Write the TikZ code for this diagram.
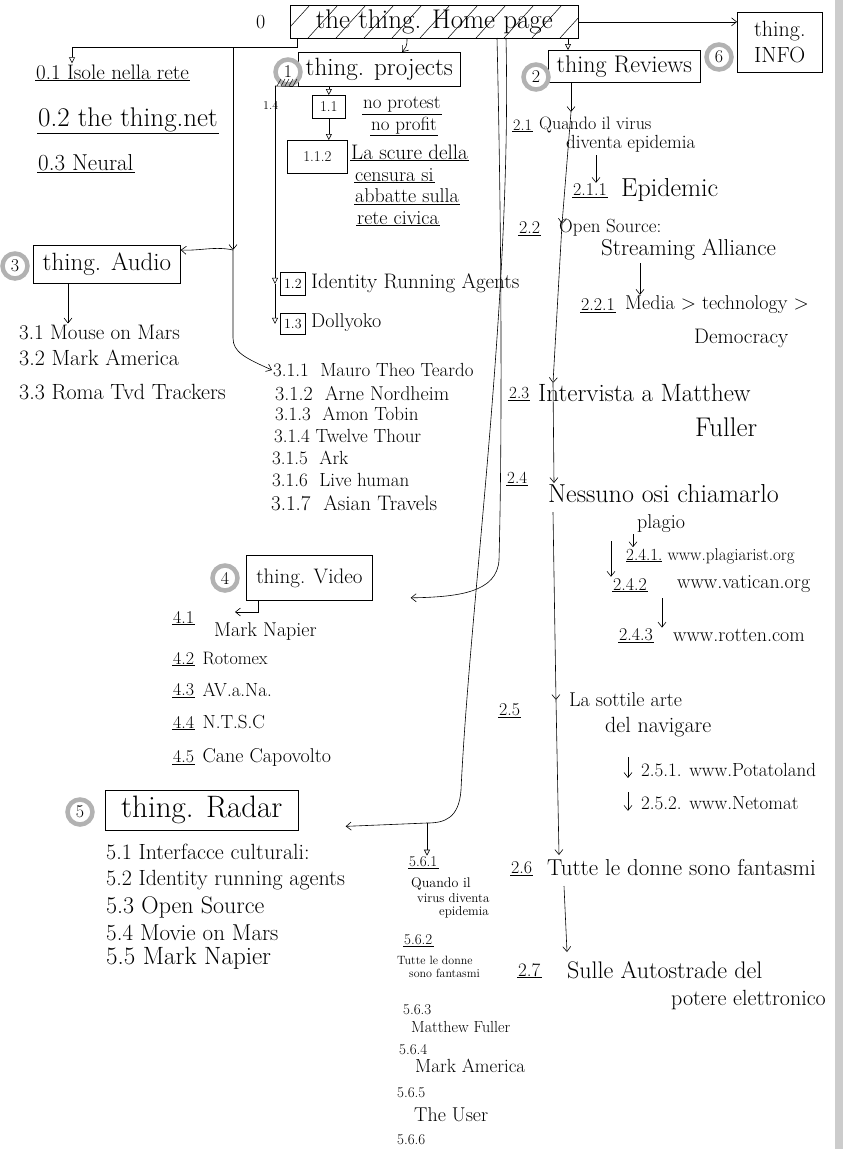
\documentclass[tikz,border=0pt]{standalone}
\usepackage{fontspec}
\usetikzlibrary{arrows.meta}
\tikzset{
  fs/.style={font=\fontsize{#1}{#1}\selectfont},
  t/.style={anchor=west, inner sep=1pt, fs=16},
  ul/.style={append after command={(\tikzlastnode.south west) edge[line width=0.6pt] (\tikzlastnode.south east)}},
  arr/.style={line width=0.6pt, -{Straight Barb[length=5pt,width=8pt]}},
  tri/.style={line width=0.6pt, -{Triangle[open,length=6pt,width=6pt]}},
  ln/.style={line width=0.6pt},
  box/.style={draw, line width=0.7pt, anchor=north west, inner sep=2pt},
  ring/.style={circle, draw=gray!60, line width=4.5pt, minimum size=25pt, inner sep=0pt, fs=18},
}
\begin{document}
\begin{tikzpicture}[x=1pt,y=-1pt]
\fill[white] (0,0) rectangle (843,1149);
\useasboundingbox (0,0) rectangle (843,1149);
\fill[gray!40] (835,0) rectangle (843,1149);

% ---------- top level ----------
\node[t, fs=20] (n0) at (255,22) {0};
\node[box, minimum width=288pt, minimum height=33pt, fs=27] (home) at (290,5) {the thing. Home page};
\begin{scope}
\clip (home.south west) rectangle (home.north east);
\foreach \k in {0,...,11} {\draw[line width=0.5pt] (280+\k*28,38) -- ++(30,-33);}
\end{scope}
\node[box, minimum width=85pt, minimum height=60pt, align=left, font=\fontsize{22}{26}\selectfont] (info) at (737,12) {thing.\\INFO};
\node[ring] (c6) at (719,57) {6};
\node[box, minimum width=162pt, minimum height=34pt, fs=25] (proj) at (298,52) {thing. projects};
\node[ring] (c1) at (288,72) {1};
\node[box, minimum width=152pt, minimum height=32pt, fs=24] (rev) at (548,50) {thing Reviews};
\node[ring] (c2) at (536,77) {2};

% ---------- 0.x ----------
\node[t, fs=21, ul] (n01) at (35,72) {0.1 Isole nella rete};
\node[t, fs=27, ul] (n02) at (37,120) {0.2 the thing.net};
\node[t, fs=23, ul] (n03) at (37,163) {0.3 Neural};

% ---------- projects ----------
\node[box, minimum width=33pt, minimum height=23pt, fs=15] (b11) at (312,95) {1.1};
\node[box, minimum width=60pt, minimum height=33pt, fs=15] (b112) at (287,140) {1.1.2};
\node[t, fs=12] (n14) at (262,105) {1.4};
\node[t, fs=19, ul] (np1) at (362,105) {no protest};
\node[t, fs=19, ul] (np2) at (370,126) {no profit};
\node[t, fs=21, ul] (sc1) at (350,152) {La scure della};
\node[t, fs=20, ul] (sc2) at (354,175) {censura si};
\node[t, fs=20, ul] (sc3) at (354,196) {abbatte sulla};
\node[t, fs=20, ul] (sc4) at (356,218) {rete civica};
\node[box, minimum width=25pt, minimum height=23pt, fs=14] (b12) at (280,272) {1.2};
\node[t, fs=21] (n12) at (310,283) {Identity Running Agents};
\node[box, minimum width=25pt, minimum height=21pt, fs=14] (b13) at (280,313) {1.3};
\node[t, fs=20] (n13) at (310,323) {Dollyoko};

% ---------- audio ----------
\node[box, minimum width=147pt, minimum height=38pt, fs=25] (aud) at (33,245) {thing. Audio};
\node[ring] (c3) at (15,266) {3};
\node[t, fs=21] (n31) at (18,332) {3.1 Mouse on Mars};
\node[t, fs=22] (n32) at (18,358) {3.2 Mark America};
\node[t, fs=22] (n33) at (18,392) {3.3 Roma Tvd Trackers};
\node[t, fs=19] (m1) at (272,370) {3.1.1\ \ Mauro Theo Teardo};
\node[t, fs=20] (m2) at (274,394) {3.1.2\ \ Arne Nordheim};
\node[t, fs=19] (m3) at (274,414) {3.1.3\ \ Amon Tobin};
\node[t, fs=19] (m4) at (273,436) {3.1.4 Twelve Thour};
\node[t, fs=19] (m5) at (271,458) {3.1.5\ \ Ark};
\node[t, fs=19] (m6) at (271,480) {3.1.6\ \ Live human};
\node[t, fs=21] (m7) at (270,503) {3.1.7\ \ Asian Travels};

% ---------- video ----------
\node[box, minimum width=126pt, minimum height=45pt, fs=21] (vid) at (246,555) {thing. Video};
\node[ring] (c4) at (225,578) {4};
\node[t, fs=18, ul] (v41) at (172,617) {4.1};
\node[t, fs=20] (v41t) at (213,632) {Mark Napier};
\node[t, fs=18, ul] (v42) at (172,658) {4.2};
\node[t, fs=18] (v42t) at ([xshift=6pt]v42.east) {Rotomex};
\node[t, fs=18, ul] (v43) at (172,690) {4.3};
\node[t, fs=19] (v43t) at ([xshift=6pt]v43.east) {AV.a.Na.};
\node[t, fs=18, ul] (v44) at (172,722) {4.4};
\node[t, fs=19] (v44t) at ([xshift=6pt]v44.east) {N.T.S.C};
\node[t, fs=18, ul] (v45) at (172,757) {4.5};
\node[t, fs=20] (v45t) at ([xshift=6pt]v45.east) {Cane Capovolto};

% ---------- radar ----------
\node[box, minimum width=193pt, minimum height=40pt, fs=31] (rad) at (105,790) {thing. Radar};
\node[ring] (c5) at (80,812) {5};
\node[t, fs=22] (r51) at (105,852) {5.1 Interfacce culturali:};
\node[t, fs=22] (r52) at (105,880) {5.2 Identity running agents};
\node[t, fs=24] (r53) at (105,907) {5.3 Open Source};
\node[t, fs=23] (r54) at (105,933) {5.4 Movie on Mars};
\node[t, fs=25] (r55) at (105,958) {5.5 Mark Napier};

% ---------- 5.6 column ----------
\node[t, fs=15, ul] (s1) at (408,862) {5.6.1};
\node[t, fs=14] (s1a) at (410,884) {Quando il};
\node[t, fs=13] (s1b) at (416,898) {virus diventa};
\node[t, fs=13] (s1c) at (438,912) {epidemia};
\node[t, fs=15, ul] (s2) at (403,940) {5.6.2};
\node[t, fs=12] (s2a) at (396,960) {Tutte le donne};
\node[t, fs=12] (s2b) at (408,973) {sono fantasmi};
\node[t, fs=15] (s3) at (402,1010) {5.6.3};
\node[t, fs=16] (s3a) at (410,1027) {Matthew Fuller};
\node[t, fs=15] (s4) at (398,1050) {5.6.4};
\node[t, fs=19] (s4a) at (414,1066) {Mark America};
\node[t, fs=15] (s5) at (396,1093) {5.6.5};
\node[t, fs=20] (s5a) at (413,1115) {The User};
\node[t, fs=15] (s6) at (396,1140) {5.6.6};

% ---------- reviews ----------
\node[t, fs=16, ul] (l21) at (512,125) {2.1};
\node[t, fs=18] (q21a) at (538,125) {Quando il virus};
\node[t, fs=19] (q21b) at (565,144) {diventa epidemia};
\node[t, fs=18, ul] (l211) at (572,190) {2.1.1};
\node[t, fs=26] (q211) at (620,190) {Epidemic};
\node[t, fs=18, ul] (l22) at (518,228) {2.2};
\node[t, fs=19] (q22a) at (558,228) {Open Source:};
\node[t, fs=23] (q22b) at (600,250) {Streaming Alliance};
\node[t, fs=18, ul] (l221) at (580,305) {2.2.1};
\node[t, fs=20] (q221a) at (624,305) {Media > technology >};
\node[t, fs=21] (q221b) at (693,338) {Democracy};
\node[t, fs=17, ul] (l23) at (508,393) {2.3};
\node[t, fs=25] (q23a) at (537,393) {Intervista a Matthew};
\node[t, fs=27] (q23b) at (694,427) {Fuller};
\node[t, fs=17, ul] (l24) at (506,478) {2.4};
\node[t, fs=26] (q24a) at (547,494) {Nessuno osi chiamarlo};
\node[t, fs=20] (q24b) at (636,524) {plagio};
\node[t, fs=17] (q241) at (625,556) {\underline{2.4.1.} www.plagiarist.org};
\node[t, fs=18, ul] (l242) at (612,584) {2.4.2};
\node[t, fs=20] (q242) at (676,584) {www.vatican.org};
\node[t, fs=18, ul] (l243) at (618,635) {2.4.3};
\node[t, fs=20] (q243) at (672,635) {www.rotten.com};
\node[t, fs=18, ul] (l25) at (498,710) {2.5};
\node[t, fs=20] (q25a) at (568,700) {La sottile arte};
\node[t, fs=22] (q25b) at (604,727) {del navigare};
\node[t, fs=19] (q251) at (640,770) {2.5.1. www.Potatoland};
\node[t, fs=19] (q252) at (640,803) {2.5.2. www.Netomat};
\node[t, fs=18, ul] (l26) at (510,868) {2.6};
\node[t, fs=23] (q26) at (546,868) {Tutte le donne sono fantasmi};
\node[t, fs=19, ul] (l27) at (517,970) {2.7};
\node[t, fs=24] (q27a) at (566,970) {Sulle Autostrade del};
\node[t, fs=22] (q27b) at (670,1000) {potere elettronico};

% ---------- connectors ----------
\draw[arr] (home.east) -- (home.east -| info.west);
\coordinate (rvin) at ([xshift=20pt]rev.north west);
\draw[tri] (home.south -| rvin) -- (rvin);
\draw[arr] ([xshift=117pt]home.south west) .. controls +(0,8) and +(4,-5) .. ([xshift=104pt]proj.north west);

\coordinate (j0) at (297,47);
\coordinate (j1) at (233,47);
\coordinate (j2) at (233,250);
\coordinate (a01) at ([xshift=37pt]n01.north west);
\draw[tri] (home.south -| j0) -- (j0) -| (a01);
\draw[arr] (j1) -- (j2);
\draw[arr] (j2) .. controls (215,246) and (200,251) .. (aud.east |- j2);
\draw[arr] (j2) -- (233,338) .. controls (233,352) and (245,358) .. (m1.west);

\coordinate (a3) at ([xshift=35pt]aud.south west);
\draw[arr] (a3) -- (a3 |- n31.north);

\draw[tri] (proj.south -| b11.north) -- (b11.north);
\draw[tri] (b11.south) -- (b112.north -| b11.south);
\coordinate (p0) at (275,86);
\draw[ln] (p0) -- (proj.south west);
\foreach \k in {0,...,4} {\draw[line width=0.5pt] (277+\k*4,86) -- ++(4,-7);}
\draw[tri] (p0) -- (p0 |- b12.west);
\draw[tri] (p0 |- b12.west) -- (p0 |- b13.west);

\coordinate (v0) at (497,38);
\coordinate (r0) at (506,38);
\draw[arr] (v0) .. controls (502,250) and (502,450) .. (499,560) .. controls (497,592) and (460,597) .. ([xshift=38pt,yshift=-20pt]vid.east);
\coordinate (k0) at (427,823);
\draw[ln] (r0) .. controls (512,300) and (470,600) .. (461,790) .. controls (459,818) and (445,823) .. (k0);
\draw[arr] (k0) -- ([xshift=47pt,yshift=-16pt]rad.east);
\draw[tri] (k0) -- (k0 |- s1.north);

\coordinate (vv) at (235,612);
\draw[arr] ([xshift=12pt]vid.south west) |- (vv);

\coordinate (T1) at (571,112);
\coordinate (T2) at (562,224);
\coordinate (T3) at (553,383);
\coordinate (T4) at (554,483);
\coordinate (T5a) at (553,512);
\coordinate (T5) at (556,700);
\coordinate (T6) at (559,855);
\coordinate (T7a) at (564,886);
\coordinate (T7) at (567,952);
\draw[arr] (rev.south -| T1) -- (T1);
\draw[arr] (T1) -- (T2);
\draw[arr] (T2) -- (T3);
\draw[arr] (T3) -- (T4);
\draw[arr] (T5a) -- (T5);
\draw[arr] (T5) -- (T6);
\draw[arr] (T7a) -- (T7);

\coordinate (e1) at (596,155);
\draw[arr] (e1) -- (e1 |- l211.north);
\coordinate (e2) at (640,263);
\draw[arr] (e2) -- (e2 |- q221a.north);
\coordinate (e3) at (633,534);
\draw[arr] (e3) -- (e3 |- q241.north);
\coordinate (e4) at (611,541);
\draw[arr] (e4) -- (e4 |- l242.north);
\coordinate (e5) at (662,598);
\draw[arr] (e5) -- (e5 |- q243.north);
\coordinate (e6) at (628,757);
\draw[arr] (e6) -- (e6 |- q251.south);
\coordinate (e7) at (628,792);
\draw[arr] (e7) -- (e7 |- q252.south);
\end{tikzpicture}
\end{document}
